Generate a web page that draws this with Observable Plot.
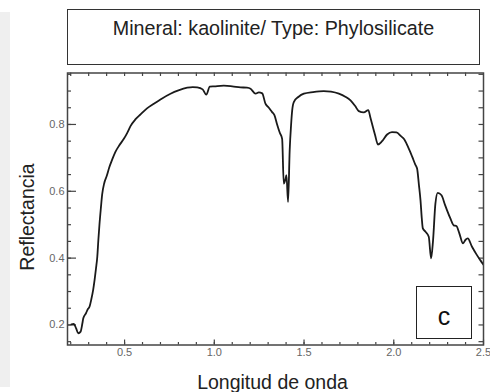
<!DOCTYPE html>
<html>
<head>
<meta charset="utf-8">
<script src="https://cdn.jsdelivr.net/npm/d3@7"></script>
<script src="https://cdn.jsdelivr.net/npm/@observablehq/plot@0.6"></script>
<style>
  html, body { margin: 0; padding: 0; background: #fff; }
  #wrap { position: relative; width: 490px; height: 392px; overflow: hidden; font-family: "Liberation Sans", Arial, sans-serif; }
  #strip { position: absolute; left: 0; top: 12px; width: 10px; height: 375px; background: #efefef; }
  #titlebox { position: absolute; left: 67px; top: 9px; width: 411px; height: 54px; border: 1.5px solid #333; box-sizing: content-box; }
  #titlebox span { position: absolute; left: 0; right: 0; top: 7px; text-align: center; font-size: 19.7px; color: #222; white-space: nowrap; }
  #cbox { position: absolute; left: 416px; top: 286px; width: 54px; height: 51px; border: 1.5px solid #222; }
  #cbox span { position: absolute; left: 0; right: 0; top: 17px; text-align: center; font-size: 25px; color: #111; line-height: 1; }
  #chart svg { display: block; }
</style>
</head>
<body>
<div id="wrap">
  <div id="chart"></div>
  <div id="strip"></div>
  <div id="titlebox"><span id="title"></span></div>
  <div id="cbox"><span id="panel"></span></div>
</div>
<script>
// ---- data ----
const titleText = "Mineral: kaolinite/ Type: Phylosilicate";
const panelLabel = "c";
const xLabel = "Longitud de onda";
const yLabel = "Reflectancia";

const wavelength = [
  0.204, 0.217, 0.230, 0.242, 0.255, 0.265, 0.270, 0.285, 0.295, 0.305,
  0.314, 0.325, 0.333, 0.341, 0.348, 0.354, 0.360, 0.368, 0.375, 0.387,
  0.400, 0.415, 0.431, 0.449, 0.470, 0.496, 0.515, 0.533, 0.560, 0.589,
  0.625, 0.663, 0.700, 0.756, 0.800, 0.849, 0.880, 0.905, 0.935, 0.955,
  0.975, 1.000, 1.053, 1.100, 1.146, 1.182, 1.202, 1.230, 1.248, 1.267,
  1.285, 1.304, 1.322, 1.335, 1.350, 1.365, 1.378, 1.387, 1.396, 1.402,
  1.411, 1.420, 1.428, 1.434, 1.443, 1.470, 1.499, 1.550, 1.610, 1.650,
  1.694, 1.730, 1.759, 1.785, 1.805, 1.833, 1.858, 1.870, 1.895, 1.912,
  1.935, 1.963, 1.990, 2.015, 2.040, 2.056, 2.080, 2.103, 2.120, 2.130,
  2.140, 2.149, 2.156, 2.162, 2.177, 2.195, 2.208, 2.219, 2.232, 2.245,
  2.266, 2.285, 2.297, 2.316, 2.334, 2.349, 2.365, 2.386, 2.400, 2.412,
  2.436, 2.460, 2.482, 2.500
];
const reflectance = [
  0.202, 0.203, 0.190, 0.175, 0.180, 0.205, 0.220, 0.235, 0.247, 0.255,
  0.275, 0.305, 0.335, 0.370, 0.404, 0.455, 0.500, 0.550, 0.590, 0.625,
  0.645, 0.672, 0.695, 0.718, 0.737, 0.757, 0.775, 0.795, 0.815, 0.830,
  0.848, 0.862, 0.875, 0.892, 0.902, 0.910, 0.912, 0.911, 0.905, 0.889,
  0.913, 0.914, 0.916, 0.914, 0.911, 0.910, 0.907, 0.892, 0.896, 0.893,
  0.862, 0.850, 0.837, 0.828, 0.800, 0.775, 0.757, 0.623, 0.635, 0.648,
  0.568, 0.722, 0.800, 0.842, 0.867, 0.883, 0.892, 0.897, 0.900, 0.898,
  0.892, 0.883, 0.872, 0.855, 0.840, 0.836, 0.843, 0.820, 0.770, 0.740,
  0.750, 0.770, 0.777, 0.776, 0.765, 0.757, 0.732, 0.703, 0.680, 0.668,
  0.620, 0.573, 0.520, 0.489, 0.479, 0.464, 0.399, 0.454, 0.563, 0.595,
  0.588, 0.560, 0.543, 0.518, 0.498, 0.496, 0.475, 0.444, 0.455, 0.459,
  0.434, 0.412, 0.394, 0.380
];

const xMajor = [0.5, 1.0, 1.5, 2.0, 2.5];
const xMinor = [0.2, 0.3, 0.4, 0.5, 0.6, 0.7, 0.8, 0.9, 1.0, 1.1, 1.2, 1.3, 1.4, 1.5, 1.6, 1.7, 1.8, 1.9, 2.0, 2.1, 2.2, 2.3, 2.4];
const yMajor = [0.2, 0.4, 0.6, 0.8];
const yMinor = [0.15, 0.2, 0.25, 0.3, 0.35, 0.4, 0.45, 0.5, 0.55, 0.6, 0.65, 0.7, 0.75, 0.8, 0.85, 0.9, 0.95];
const xDomain = [0.182, 2.5];
const yDomain = [0.14, 0.954];

const spectrum = wavelength.map((w, i) => ({w, r: reflectance[i]}));

document.getElementById("title").textContent = titleText;
document.getElementById("panel").textContent = panelLabel;

const W = 490, H = 392;
const mL = 67, mR = 7, mT = 72.5, mB = 47.5;
const innerW = W - mL - mR, innerH = H - mT - mB;
const tickColor = "#444";

const chart = Plot.plot({
  width: W,
  height: H,
  marginLeft: mL,
  marginRight: mR,
  marginTop: mT,
  marginBottom: mB,
  style: {background: "transparent", fontFamily: "Liberation Sans, Arial, sans-serif"},
  x: {domain: xDomain},
  y: {domain: yDomain},
  marks: [
    Plot.axisX({ticks: xMajor, tickSize: 0, tickPadding: 3, fontSize: 11, color: "#666", label: null, tickFormat: d3.format(".1f")}),
    Plot.axisY({ticks: yMajor, tickSize: 0, tickPadding: 3, fontSize: 11, color: "#666", label: null, tickFormat: d3.format(".1f")}),
    // inward ticks: bottom
    Plot.tickX(xMinor, {x: d => d, insetTop: innerH - 2.5, stroke: tickColor, strokeWidth: 1.2}),
    Plot.tickX(xMajor, {x: d => d, insetTop: innerH - 5, stroke: tickColor, strokeWidth: 1.2}),
    // top
    Plot.tickX(xMinor, {x: d => d, insetBottom: innerH - 3.5, stroke: tickColor, strokeWidth: 1.2}),
    // left
    Plot.tickY(yMinor, {y: d => d, insetRight: innerW - 4, stroke: tickColor, strokeWidth: 1.2}),
    Plot.tickY(yMajor, {y: d => d, insetRight: innerW - 9, stroke: tickColor, strokeWidth: 1.2}),
    // right
    Plot.tickY(yMinor, {y: d => d, insetLeft: innerW - 4.5, stroke: tickColor, strokeWidth: 1.2}),
    Plot.frame({stroke: "#444", strokeWidth: 1.5}),
    Plot.line(spectrum, {x: "w", y: "r", stroke: "#1a1a1a", strokeWidth: 1.8, curve: "monotone-x", clip: true}),
    Plot.text([yLabel], {text: d => d, frameAnchor: "left", textAnchor: "middle", lineAnchor: "middle", dx: -40, dy: 8, rotate: -90, fontSize: 19.5, fill: "#222"}),
    Plot.text([xLabel], {text: d => d, frameAnchor: "bottom", textAnchor: "middle", lineAnchor: "bottom", dx: -3, dy: 43.5, fontSize: 19.5, fill: "#222"})
  ]
});
document.getElementById("chart").appendChild(chart);
</script>
</body>
</html>
